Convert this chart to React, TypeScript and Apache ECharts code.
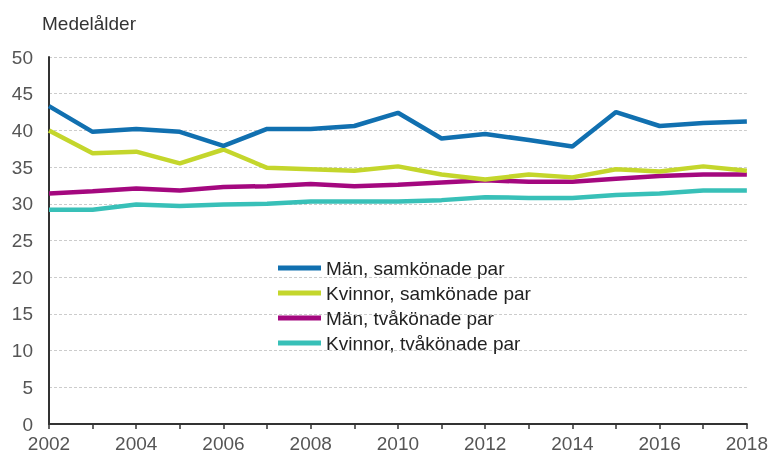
import React, { useEffect, useRef } from "react";
import * as echarts from "echarts";

const years = ["2002","2003","2004","2005","2006","2007","2008","2009","2010","2011","2012","2013","2014","2015","2016","2017","2018"];
const manSam = [43.3, 39.8, 40.2, 39.8, 37.9, 40.2, 40.2, 40.6, 42.4, 38.9, 39.5, 38.7, 37.8, 42.5, 40.6, 41.0, 41.2];
const kvinnorSam = [40.0, 36.9, 37.1, 35.5, 37.4, 34.9, 34.7, 34.5, 35.1, 34.0, 33.3, 34.0, 33.6, 34.7, 34.4, 35.1, 34.5];
const manTva = [31.4, 31.7, 32.1, 31.8, 32.3, 32.4, 32.7, 32.4, 32.6, 32.9, 33.2, 33.0, 33.0, 33.4, 33.8, 34.0, 34.0];
const kvinnorTva = [29.2, 29.2, 29.9, 29.7, 29.9, 30.0, 30.3, 30.3, 30.3, 30.5, 30.9, 30.8, 30.8, 31.2, 31.4, 31.8, 31.8];
const seriesNames = ["Män, samkönade par", "Kvinnor, samkönade par", "Män, tvåkönade par", "Kvinnor, tvåkönade par"];
const colors = ["#1170b0", "#c4d62c", "#a4087f", "#38c0b8"];
const yTitle = "Medelålder";

export default function App() {
  const ref = useRef<HTMLDivElement>(null);
  useEffect(() => {
    if (!ref.current) return;
    const chart = echarts.init(ref.current, null, { renderer: "svg" });
    const data = [manSam, kvinnorSam, manTva, kvinnorTva];
    const font = "Liberation Sans, Arial, sans-serif";
    chart.setOption({
      animation: false,
      title: {
        text: yTitle,
        left: 37,
        top: 9,
        textStyle: { fontSize: 19, fontWeight: "normal", color: "#333", fontFamily: font },
      },
      grid: { left: 49, right: 22, top: 57, bottom: 28, containLabel: false },
      legend: {
        orient: "vertical",
        left: 273,
        top: 253,
        itemWidth: 43,
        itemHeight: 5,
        itemGap: 5,
        icon: "rect",
        data: seriesNames,
        textStyle: { fontSize: 19, lineHeight: 20, color: "#222", fontFamily: font },
      },
      xAxis: {
        type: "category",
        data: years,
        boundaryGap: false,
        axisLine: { lineStyle: { color: "#333", width: 2 } },
        axisTick: { show: true, interval: 0, length: 5, lineStyle: { color: "#333", width: 1.5 } },
        axisLabel: { interval: 1, color: "#555", fontSize: 19, margin: 10, fontFamily: font },
        splitLine: { show: false },
      },
      yAxis: {
        type: "value",
        min: 0,
        max: 50,
        interval: 5,
        axisLine: { show: true, lineStyle: { color: "#333", width: 2 } },
        axisTick: { show: false },
        axisLabel: { color: "#555", fontSize: 19, margin: 16, fontFamily: font },
        splitLine: { show: true, lineStyle: { color: "#cccccc", type: [3, 2], width: 1 } },
      },
      series: data.map((d, i) => ({
        name: seriesNames[i],
        type: "line",
        data: d,
        symbol: "none",
        color: colors[i],
        lineStyle: { width: 4.5, color: colors[i] },
        z: 10 - i,
      })),
    });
    return () => chart.dispose();
  }, []);
  return <div ref={ref} style={{ position: "fixed", left: 0, top: 0, width: 771, height: 453 }} />;
}
